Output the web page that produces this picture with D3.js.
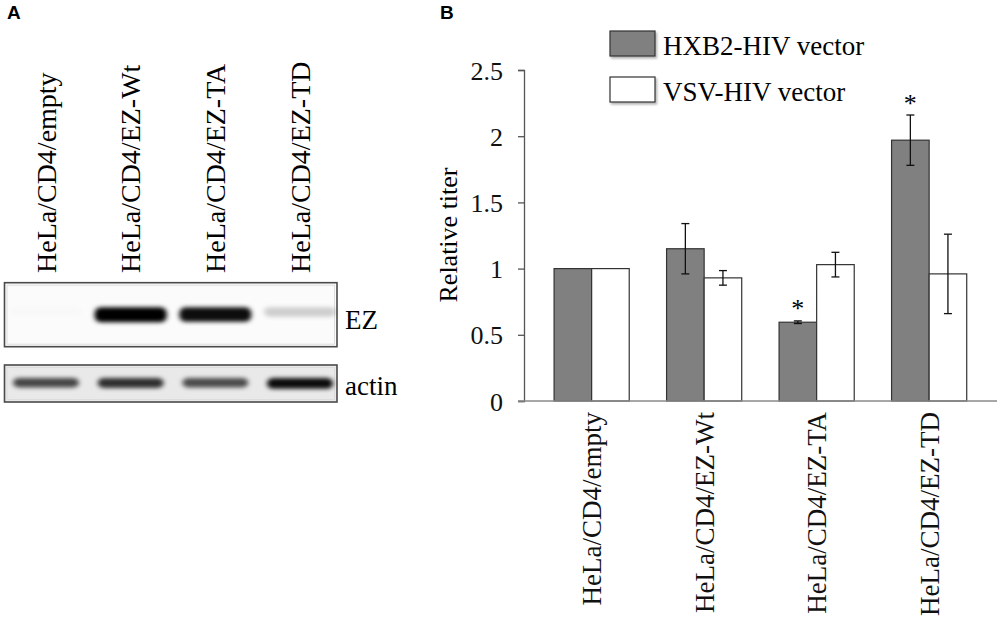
<!DOCTYPE html>
<html>
<head>
<meta charset="utf-8">
<script src="https://cdn.jsdelivr.net/npm/d3@7"></script>
<style>
  body { margin: 0; background: #fff; }
  svg { display: block; }
</style>
</head>
<body>
<div id="fig"></div>
<script>
/* western blot (A) + relative titer bar chart (B) */

// panel B data
const groups = ['HeLa/CD4/empty', 'HeLa/CD4/EZ-Wt', 'HeLa/CD4/EZ-TA', 'HeLa/CD4/EZ-TD'];
const seriesNames = ['HXB2-HIV vector', 'VSV-HIV vector'];
const hxb2 = [1, 1.15, 0.595, 1.97];
const hxb2Err = [0, 0.19, 0.01, 0.19];
const vsv = [1, 0.93, 1.03, 0.96];
const vsvErr = [0, 0.055, 0.093, 0.30];
const starred = [false, false, true, true];   // asterisk over HXB2 bar
const yTicks = [0, 0.5, 1, 1.5, 2, 2.5];

// panel A data (band strength 0..1)
const lanes = groups;
const ezBands = [0.012, 1, 0.95, 0.18];
const actinBands = [0.7, 0.8, 0.68, 0.95];

const serif = "'Liberation Serif', 'Times New Roman', serif";

const svg = d3.select('#fig').append('svg')
  .attr('width', 1000)
  .attr('height', 622);

const defs = svg.append('defs');
defs.append('filter').attr('id', 'blur').attr('x', '-30%').attr('y', '-80%').attr('width', '160%').attr('height', '260%')
  .append('feGaussianBlur').attr('stdDeviation', '2.6 2.2');
defs.append('filter').attr('id', 'shadow').attr('x', '-20%').attr('y', '-20%').attr('width', '150%').attr('height', '160%')
  .append('feDropShadow').attr('dx', 1.5).attr('dy', 2).attr('stdDeviation', 1.2)
  .attr('flood-color', '#000').attr('flood-opacity', 0.3);

// panel letters
svg.append('text').attr('x', 7).attr('y', 19)
  .style('font-family', "'Liberation Sans', Arial, sans-serif").style('font-weight', 'bold').style('font-size', '19px')
  .text('A');
svg.append('text').attr('x', 440).attr('y', 19)
  .style('font-family', "'Liberation Sans', Arial, sans-serif").style('font-weight', 'bold').style('font-size', '19px')
  .text('B');

// ---------- Panel A: blot ----------
const laneX = d3.scalePoint().domain(lanes).range([46, 300]);
const gA = svg.append('g');

gA.selectAll('.lane-label')
  .data(lanes)
  .enter().append('text')
  .attr('transform', d => `translate(${laneX(d)},273) rotate(-90)`)
  .attr('dy', '0.35em')
  .style('font-family', serif)
  .style('font-size', '28px')
  .text(d => d);

function blot(y, h, bands, bg, bandH, bandW, label, labelY) {
  gA.append('rect')
    .attr('x', 4.5).attr('y', y).attr('width', 332.5).attr('height', h)
    .attr('fill', bg).attr('stroke', '#4a4a4a').attr('stroke-width', 1.6);
  gA.append('rect')
    .attr('x', 7).attr('y', y + 2.5).attr('width', 327.5).attr('height', h - 5)
    .attr('fill', 'none').attr('stroke', '#ddd').attr('stroke-width', 1);
  gA.append('g').attr('filter', 'url(#blur)')
    .selectAll('rect')
    .data(bands)
    .enter().append('rect')
    .attr('x', (d, i) => laneX(lanes[i]) - bandW / 2)
    .attr('y', y + h / 2 - bandH / 2)
    .attr('width', bandW)
    .attr('height', (d) => bandH * (0.55 + 0.45 * d))
    .attr('rx', 6)
    .attr('fill', '#000')
    .attr('fill-opacity', d => d);
  gA.append('text')
    .attr('x', 345).attr('y', labelY)
    .style('font-family', serif).style('font-size', '27px')
    .text(label);
}
blot(282.7, 64, ezBands, '#fbfbfb', 15, 72, 'EZ', 329);
blot(365, 37, actinBands, '#e9e9e9', 11, 66, 'actin', 395);

// ---------- Panel B: bar chart ----------
const x0 = d3.scaleBand().domain(groups).range([535.4, 985.4]).paddingInner(0.332).paddingOuter(0.166);
const x1 = d3.scaleBand().domain(seriesNames).range([0, x0.bandwidth()]);
const y = d3.scaleLinear().domain([0, 2.5]).range([401, 70]);
const axisX = 524;

const gB = svg.append('g');

// y axis
gB.append('g')
  .attr('transform', `translate(${axisX},0)`)
  .call(d3.axisLeft(y).tickValues(yTicks).tickFormat(d => d).tickSize(6).tickPadding(15))
  .call(g => g.select('.domain').attr('stroke', '#555').attr('stroke-width', 1.3))
  .call(g => g.selectAll('.tick line').attr('stroke', '#555').attr('stroke-width', 1.3))
  .selectAll('text')
  .attr('fill', '#111')
  .style('font-family', serif)
  .style('font-size', '26px')
  .attr('dy', '0.35em');

// y label
gB.append('text')
  .attr('transform', 'translate(448,235) rotate(-90)')
  .attr('text-anchor', 'middle')
  .attr('dy', '0.35em')
  .style('font-family', serif)
  .style('font-size', '26px')
  .text('Relative titer');

// bars
const rows = groups.map((g, i) => ({
  group: g,
  vals: [
    { s: seriesNames[0], v: hxb2[i], e: hxb2Err[i], fill: '#808080' },
    { s: seriesNames[1], v: vsv[i], e: vsvErr[i], fill: '#fff' }
  ],
  star: starred[i]
}));

const grp = gB.selectAll('.grp')
  .data(rows)
  .enter().append('g')
  .attr('transform', d => `translate(${x0(d.group)},0)`);

grp.selectAll('rect')
  .data(d => d.vals)
  .enter().append('rect')
  .attr('x', d => x1(d.s))
  .attr('y', d => y(d.v))
  .attr('width', x1.bandwidth())
  .attr('height', d => y(0) - y(d.v))
  .attr('fill', d => d.fill)
  .attr('stroke', '#333')
  .attr('stroke-width', 1.2);

// error bars
const errs = grp.selectAll('.err')
  .data(d => d.vals.filter(v => v.e > 0))
  .enter().append('g')
  .attr('stroke', '#111')
  .attr('stroke-width', 1.3);
errs.append('line')
  .attr('x1', d => x1(d.s) + x1.bandwidth() / 2)
  .attr('x2', d => x1(d.s) + x1.bandwidth() / 2)
  .attr('y1', d => y(d.v + d.e))
  .attr('y2', d => y(d.v - d.e));
[1, -1].forEach(sign => {
  errs.append('line')
    .attr('x1', d => x1(d.s) + x1.bandwidth() / 2 - 4)
    .attr('x2', d => x1(d.s) + x1.bandwidth() / 2 + 4)
    .attr('y1', d => y(d.v + sign * d.e))
    .attr('y2', d => y(d.v + sign * d.e));
});

// asterisks
grp.filter(d => d.star)
  .append('text')
  .attr('x', d => x1(seriesNames[0]) + x1.bandwidth() / 2)
  .attr('y', d => y(d.vals[0].v + d.vals[0].e) - 23)
  .attr('dy', '0.75em')
  .attr('text-anchor', 'middle')
  .style('font-family', serif)
  .style('font-size', '26px')
  .text('*');

// x baseline
gB.append('line')
  .attr('x1', axisX - 6).attr('x2', 997)
  .attr('y1', y(0)).attr('y2', y(0))
  .attr('stroke', '#8a8a8a').attr('stroke-width', 1.3);

// x labels
gB.append('g')
  .attr('transform', `translate(0,${y(0)})`)
  .call(d3.axisBottom(x0).tickSize(0))
  .call(g => g.select('.domain').remove())
  .selectAll('text')
  .attr('transform', 'rotate(-90)')
  .attr('x', -11)
  .attr('y', 0)
  .attr('dy', '0.35em')
  .attr('fill', '#111')
  .style('text-anchor', 'end')
  .style('font-family', serif)
  .style('font-size', '27px');

// legend
const leg = gB.selectAll('.leg')
  .data(seriesNames)
  .enter().append('g')
  .attr('transform', (d, i) => `translate(610,${31 + i * 46})`);
leg.append('rect')
  .attr('width', 45).attr('height', 25)
  .attr('fill', (d, i) => i === 0 ? '#808080' : '#fff')
  .attr('stroke', '#333').attr('stroke-width', 1.2)
  .attr('filter', 'url(#shadow)');
leg.append('text')
  .attr('x', 53).attr('y', 24)
  .style('font-family', serif)
  .style('font-size', '27px')
  .text(d => d);
</script>
</body>
</html>
